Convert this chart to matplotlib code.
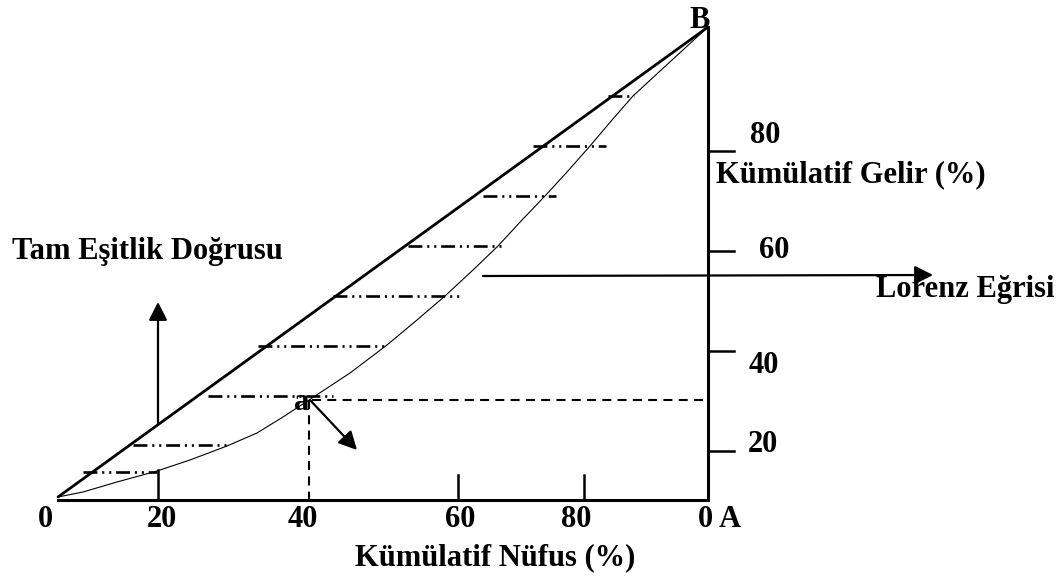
import matplotlib.pyplot as plt
import numpy as np

plt.rcParams['font.family'] = ['Liberation Serif', 'DejaVu Serif']
plt.rcParams['lines.scale_dashes'] = False

# Diyagram koordinatlari (goruntu pikseli, y asagi dogru)
origin = (58, 497)
point_b = (708, 27)

# Tam esitlik dogrusu
equality_x = [origin[0], point_b[0]]
equality_y = [origin[1], point_b[1]]

# Lorenz egrisi (okunan noktalar)
lorenz_x = [58, 83, 117, 157, 190, 227, 257, 283, 309, 350, 387, 417, 445, 473,
            498, 522, 545, 567, 590, 612, 633, 659, 684, 708]
lorenz_y = [497, 492, 482, 471, 460, 446, 433, 417, 400, 373, 345, 320, 296, 270,
            246, 220, 196, 172, 146, 120, 96, 72, 49, 27]

# Kesik-nokta yatay cizgiler: y, baslangic x, bitis x
hatch_y = [472, 445, 396, 346, 296, 246, 196, 146, 96]
hatch_x0 = [83, 133, 208, 258, 333, 408, 483, 533, 608]
hatch_x1 = [157, 230, 333, 385, 459, 504, 556, 606, 634]

# Eksenler
axis_y = 500
axis_right_x = 708
bottom_tick_x = [158, 458, 584]
bottom_tick_top = [470, 475, 475]
bottom_labels = ['0', '20', '40', '60', '80', '0 A']
bottom_label_x = [45, 162, 303, 460, 576, 720]
right_tick_y = [151, 251, 351, 451]
right_labels = ['80', '60', '40', '20']
right_label_x = [750, 759, 749, 748]
right_label_base = [143, 258, 373, 452]

# a noktasi
point_a = (309, 400)

fig = plt.figure(figsize=(10.63, 5.76), dpi=100)
ax = fig.add_axes([0, 0, 1, 1])
ax.set_xlim(0, 1063)
ax.set_ylim(576, 0)
ax.axis('off')

# esitlik dogrusu ve lorenz egrisi
ax.plot(equality_x, equality_y, color='black', lw=2.0, solid_capstyle='round')
ax.plot(lorenz_x, lorenz_y, color='black', lw=0.8)

# kesik-nokta cizgiler
dashdot = (0, (10, 3.5, 1.5, 3.5, 1.5, 3.5))
for y, x0, x1 in zip(hatch_y, hatch_x0, hatch_x1):
    ax.plot([x0, x1], [y, y], color='black', lw=1.9, linestyle=dashdot)

# eksen cizgileri
ax.plot([origin[0], axis_right_x], [axis_y, axis_y], color='black', lw=2.2)
ax.plot([axis_right_x, axis_right_x], [axis_y, point_b[1]], color='black', lw=2.2)
for x, top in zip(bottom_tick_x, bottom_tick_top):
    ax.plot([x, x], [top, axis_y], color='black', lw=1.8)
for y in right_tick_y:
    ax.plot([axis_right_x, axis_right_x + 26], [y, y], color='black', lw=1.8)

# a noktasindan kesikli cizgiler
dashed = (0, (6.5, 4.5))
ax.plot([point_a[0] + 3, axis_right_x], [point_a[1], point_a[1]], color='black', lw=1.5, linestyle=dashed)
ax.plot([point_a[0], point_a[0]], [point_a[1], axis_y], color='black', lw=1.5, linestyle=dashed)

# oklar
arrow = dict(arrowstyle='-|>,head_length=0.65,head_width=0.33', color='black', lw=1.6,
             mutation_scale=17, shrinkA=0, shrinkB=0)
ax.annotate('', xy=(158, 302), xytext=(158, 425), arrowprops=arrow)
ax.annotate('', xy=(933, 275), xytext=(483, 276), arrowprops=arrow)
ax.annotate('', xy=(357, 450), xytext=(310, 400), arrowprops=arrow)

# yazilar
fs = 22
txt = dict(fontsize=fs, fontweight='bold', color='black', va='baseline')
ax.text(12, 259, 'Tam Eşitlik Doğrusu', ha='left', **txt)
ax.text(1055, 297, 'Lorenz Eğrisi', ha='right', **txt)
ax.text(716, 182, 'Kümülatif Gelir (%)', ha='left', **txt)
ax.text(495, 565, 'Kümülatif Nüfus (%)', ha='center', **txt)
ax.text(700, 28, 'B', ha='center', **txt)
ax.text(302, 410, 'a', ha='center', **txt)
for lab, x in zip(bottom_labels, bottom_label_x):
    ax.text(x, 527, lab, ha='center', **txt)
for lab, x, y in zip(right_labels, right_label_x, right_label_base):
    ax.text(x, y, lab, ha='left', **txt)

fig.savefig('out.png', dpi=100)
